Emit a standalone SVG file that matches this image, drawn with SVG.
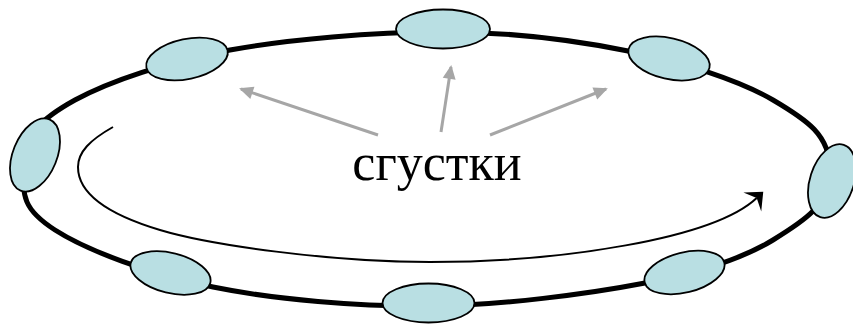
<svg xmlns="http://www.w3.org/2000/svg" width="853" height="324" viewBox="0 0 853 324">
<style>
.ring{fill:none;stroke:#000;stroke-width:5}
.bunch{fill:#B9DFE3;stroke:#000;stroke-width:1.8}
.ptr{fill:none;stroke:#A6A6A6;stroke-width:3}
.flow{fill:none;stroke:#000;stroke-width:2}
.lbl{font-family:"Liberation Serif","Times New Roman",serif;font-size:52px;fill:#000}
</style>
<defs>
<marker id="gh" markerUnits="userSpaceOnUse" viewBox="-14 -8 16 16" markerWidth="16" markerHeight="16" refX="0" refY="0" orient="auto">
<path d="M2,0 L-12,-6.5 L-12,6.5 Z" fill="#A6A6A6"/>
</marker>
<marker id="bh" markerUnits="userSpaceOnUse" viewBox="-7 -14 17 28" markerWidth="17" markerHeight="28" refX="0" refY="0" orient="auto">
<path d="M9,0 L-6,-13 L0,0 L-6,13 Z" fill="#000"/>
</marker>
</defs>
<g id="ring">
<path class="ring" d="M440,32 C506.7,31.8 572.5,39.7 628,51 C683.5,62.3 739.3,80.2 773,100 C806.7,119.8 830,135 830,170 C830,205 803.8,221.2 773,240 C742.2,258.8 702.2,272 645,283 C587.8,294 502,305.3 430,306 C358,306.7 275.5,299.7 213,287 C150.5,274.3 86.5,250.3 55,230 C23.5,209.7 22,197 24,165 C26,133 41,118.8 75,100 C109,81.2 168,61.5 230,50 C290,39 373.3,32.2 440,32 Z"/>
</g>
<g id="connectors">
<path class="ptr" d="M378,135 L241,89" marker-end="url(#gh)"/>
<path class="ptr" d="M441,132 L451,67" marker-end="url(#gh)"/>
<path class="ptr" d="M490,135 L606,89" marker-end="url(#gh)"/>
<path class="flow" d="M113,127 C90,140 78,152 78,167 C78,195 110,215 160,230 C210,245 330,262 430,262 C560,262 713,239 756.7,197.9" marker-end="url(#bh)"/>
</g>
<g id="bunch-top"><ellipse class="bunch" cx="443" cy="29" rx="47" ry="19.5"/></g>
<g id="bunch-top-left"><ellipse class="bunch" cx="187" cy="59" rx="41.5" ry="20" transform="rotate(-12 187 59)"/></g>
<g id="bunch-top-right"><ellipse class="bunch" cx="669" cy="58.5" rx="41.5" ry="20.5" transform="rotate(13 669 58.5)"/></g>
<g id="bunch-left"><ellipse class="bunch" cx="35" cy="155" rx="22" ry="38.5" transform="rotate(22 35 155)"/></g>
<g id="bunch-right"><ellipse class="bunch" cx="832" cy="181" rx="22" ry="38" transform="rotate(18 832 181)"/></g>
<g id="bunch-bottom-left"><ellipse class="bunch" cx="170.5" cy="273" rx="41" ry="20" transform="rotate(14 170.5 273)"/></g>
<g id="bunch-bottom"><ellipse class="bunch" cx="428.5" cy="303" rx="46" ry="19.5"/></g>
<g id="bunch-bottom-right"><ellipse class="bunch" cx="684.5" cy="272.5" rx="41" ry="20" transform="rotate(-14 684.5 272.5)"/></g>
<g id="label"><text class="lbl" x="437" y="180" text-anchor="middle">сгустки</text></g>
</svg>
